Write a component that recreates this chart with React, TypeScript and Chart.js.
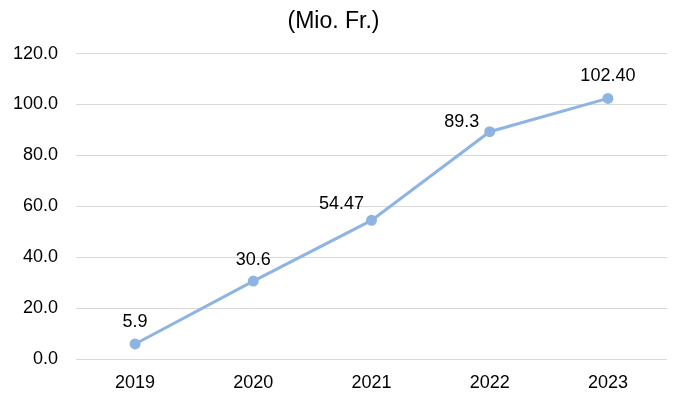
import React, { useEffect, useRef } from "react";
import { Chart, registerables } from "chart.js";

Chart.register(...registerables);

const categories = ["2019", "2020", "2021", "2022", "2023"];
const values = [5.9, 30.6, 54.47, 89.3, 102.4];
const valueLabels = ["5.9", "30.6", "54.47", "89.3", "102.40"];
const labelOffsets = [
  [0, -22],
  [0, -21],
  [-30, -16],
  [-28, -10],
  [0, -22],
];
const titleText = "(Mio. Fr.)";

const FONT = "'Liberation Sans', Arial, Helvetica, sans-serif";

const labelPlugin = {
  id: "valueLabels",
  afterDatasetsDraw(chart: any) {
    const ctx = chart.ctx;
    const meta = chart.getDatasetMeta(0);
    ctx.save();
    ctx.font = `18px ${FONT}`;
    ctx.fillStyle = "#000000";
    ctx.textAlign = "center";
    ctx.textBaseline = "middle";
    meta.data.forEach((pt: any, i: number) => {
      const [dx, dy] = labelOffsets[i];
      ctx.fillText(valueLabels[i], pt.x + dx, pt.y + dy);
    });
    ctx.restore();
  },
};

export default function App() {
  const ref = useRef<HTMLCanvasElement | null>(null);
  useEffect(() => {
    if (!ref.current) return;
    const chart = new Chart(ref.current, {
      type: "line",
      data: {
        labels: categories,
        datasets: [
          {
            data: values,
            borderColor: "#8DB4E2",
            backgroundColor: "#8DB4E2",
            borderWidth: 3,
            pointRadius: 4,
            pointBackgroundColor: "#8DB4E2",
            pointBorderColor: "#8DB4E2",
            tension: 0,
          },
        ],
      },
      options: {
        animation: false,
        responsive: false,
        maintainAspectRatio: false,
        layout: { padding: { left: 0, right: 11, top: 0, bottom: 0 } },
        plugins: {
          legend: { display: false },
          tooltip: { enabled: false },
          title: {
            display: true,
            text: titleText,
            color: "#000000",
            font: { family: FONT, size: 23, weight: "normal" },
            padding: { top: 8, bottom: 18 },
          },
        },
        scales: {
          x: {
            offset: true,
            grid: { display: false, drawTicks: false, offset: true },
            border: { display: false },
            ticks: {
              color: "#000000",
              font: { family: FONT, size: 18 },
              padding: 13,
            },
            afterFit: (s: any) => {
              s.height = 38;
            },
          },
          y: {
            min: 0,
            max: 120,
            grid: { color: "#D9D9D9", lineWidth: 1, drawTicks: false },
            border: { display: false },
            ticks: {
              stepSize: 20,
              color: "#000000",
              font: { family: FONT, size: 18 },
              padding: 18,
              callback: (v: any) => Number(v).toFixed(1),
            },
            afterFit: (s: any) => {
              s.width = 76;
            },
          },
        },
      },
      plugins: [labelPlugin],
    });
    return () => chart.destroy();
  }, []);
  return (
    <div style={{ position: "fixed", left: 0, top: 0, width: 678, height: 397, background: "#fff" }}>
      <canvas ref={ref} width={678} height={397} style={{ width: 678, height: 397 }} />
    </div>
  );
}
